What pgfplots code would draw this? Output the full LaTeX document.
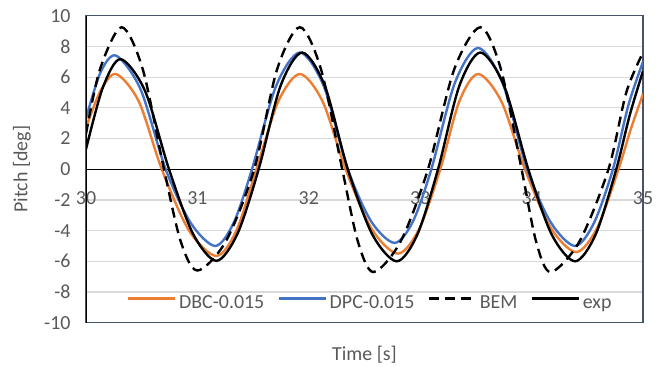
\documentclass[border=0pt]{standalone}
\usepackage{pgfplots}
\pgfplotsset{compat=1.18}
\usepackage{fontspec}
\setmainfont{Carlito}
\definecolor{xlorange}{RGB}{237,125,49}
\definecolor{xlblue}{RGB}{68,114,196}
\definecolor{gridgray}{RGB}{217,217,217}
\definecolor{framecol}{RGB}{68,84,106}
\definecolor{labelgray}{RGB}{89,89,89}
\begin{document}
\begin{tikzpicture}
\begin{axis}[
  width=557bp, height=307bp, scale only axis,
  xmin=30, xmax=35, ymin=-10, ymax=10,
  xtick={30,31,32,33,34,35},
  xticklabels={30,31,32,33,34,35},
  ytick={-10,-8,-6,-4,-2,0,2,4,6,8,10},
  yticklabels={-10,-8,-6,-4,-2,0,2,4,6,8,10},
  ymajorgrids, grid style={color=gridgray, line width=1.2bp},
  axis line style={draw=framecol, line width=1.2bp},
  major tick length=0pt,
  tick label style={color=labelgray, font=\fontsize{20}{24}\selectfont},
  xticklabel style={anchor=center, yshift=125bp},
  yticklabel style={anchor=east, xshift=-12bp},
  every axis y label/.style={at={(axis description cs:-0.115,0.5)}, rotate=90, anchor=center},
  every axis x label/.style={at={(axis description cs:0.5,0)}, anchor=center, yshift=-32bp},
  label style={color=labelgray, font=\fontsize{20}{24}\selectfont},
  xlabel={Time [s]}, ylabel={Pitch [deg]},
  extra y ticks={0}, extra y tick labels={},
  extra y tick style={ymajorgrids=true, grid style={black, line width=1.2bp}},
  legend columns=4,
  legend style={draw=none, fill=none, at={(axis description cs:0.511,0.062)}, anchor=center,
    font=\fontsize{20}{24}\selectfont, text=labelgray,
    /tikz/every even column/.append style={column sep=10bp},
    nodes={inner sep=3bp, text height=14bp, text depth=4bp}},
  legend image code/.code={\draw[#1] (0bp,5bp) -- (47bp,5bp);},
  every axis plot/.append style={line width=2.4bp, smooth},
]
\addplot[xlorange] coordinates {
(30.00,2.7) (30.13,5.1) (30.27,6.2) (30.475,4.4) (30.68,0) (30.925,-4.0) (31.17,-5.65) (31.35,-4.0) (31.53,0)
(31.725,4.4) (31.92,6.2) (32.125,4.4) (32.33,0) (32.565,-3.9) (32.80,-5.5) (32.99,-3.9) (33.18,0)
(33.35,4.4) (33.52,6.2) (33.73,4.4) (33.94,0) (34.17,-3.8) (34.40,-5.4) (34.59,-3.8) (34.78,0)
(34.89,2.6) (35.00,4.9)
};
\addlegendentry{DBC-0.015}
\addplot[xlblue] coordinates {
(30.00,3.3) (30.13,6.3) (30.27,7.4) (30.49,5.2) (30.715,0) (30.94,-3.5) (31.16,-5.0) (31.325,-3.5) (31.49,0)
(31.705,5.4) (31.92,7.6) (32.135,5.4) (32.35,0) (32.56,-3.4) (32.77,-4.8) (32.935,-3.4) (33.10,0)
(33.31,5.6) (33.52,7.9) (33.74,5.6) (33.96,0) (34.175,-3.5) (34.39,-5.0) (34.56,-3.5) (34.73,0)
(34.87,4.2) (35.00,7.0)
};
\addlegendentry{DPC-0.015}
\addplot[black, dash pattern=on 10bp off 6bp] coordinates {
(30.00,2.3) (30.125,6.5) (30.32,9.25) (30.51,6.5) (30.70,0) (30.85,-4.7) (31.00,-6.6) (31.255,-4.7) (31.51,0)
(31.715,6.5) (31.92,9.25) (32.11,6.5) (32.30,0) (32.44,-4.7) (32.58,-6.7) (32.825,-4.7) (33.07,0)
(33.305,6.5) (33.54,9.25) (33.725,6.5) (33.91,0) (34.04,-4.7) (34.17,-6.7) (34.43,-4.7) (34.69,0)
(34.85,5.0) (35.00,7.6)
};
\addlegendentry{BEM}
\addplot[black] coordinates {
(30.00,1.3) (30.15,5.3) (30.31,7.17) (30.53,5.1) (30.745,0) (30.96,-4.2) (31.17,-5.97) (31.36,-4.2) (31.55,0)
(31.745,5.4) (31.94,7.6) (32.145,5.4) (32.35,0) (32.57,-4.25) (32.79,-6.0) (32.975,-4.25) (33.16,0)
(33.35,5.4) (33.54,7.6) (33.755,5.4) (33.97,0) (34.18,-4.25) (34.39,-6.0) (34.575,-4.25) (34.76,0)
(34.88,3.5) (35.00,6.4)
};
\addlegendentry{exp}
\draw[black, line width=1.2bp] (rel axis cs:0,0) -- (rel axis cs:0,1);
\end{axis}
\path ([shift={(-86bp,-42bp)}]current axis.south west) rectangle ([shift={(22bp,15.7bp)}]current axis.north east);
\end{tikzpicture}
\end{document}
